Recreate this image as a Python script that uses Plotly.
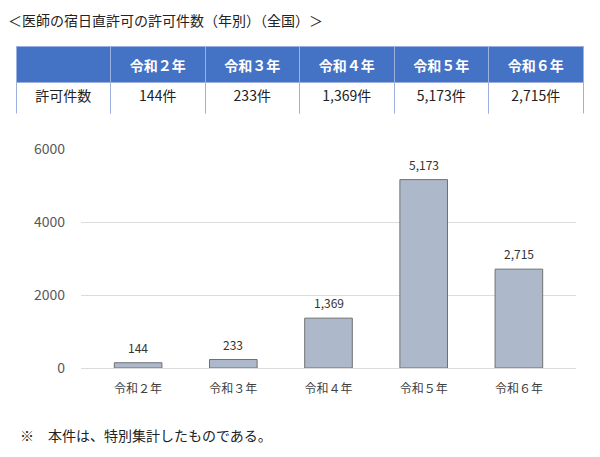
import plotly.graph_objects as go

# ---- data ----
categories = ["令和２年", "令和３年", "令和４年", "令和５年", "令和６年"]
counts = [144, 233, 1369, 5173, 2715]
row_label = "許可件数"
title_text = "＜医師の宿日直許可の許可件数（年別）（全国）＞"
note_text = "※　本件は、特別集計したものである。"
y_ticks = [0, 2000, 4000, 6000]

W, H = 600, 457
FONT = "Noto Sans CJK JP"

def fx(px):
    return px / W

def fy(py):
    return 1 - py / H

fig = go.Figure()

# ---- table ----
header_vals = [""] + categories
cell_vals = [[row_label]] + [[f"{v:,}件"] for v in counts]
fig.add_trace(go.Table(
    domain=dict(x=[fx(16), fx(583)], y=[fy(114), fy(46.5)]),
    columnwidth=[1] * len(header_vals),
    header=dict(
        values=[f"<b>{h}</b>" if h else "" for h in header_vals],
        fill_color="#4472c4",
        line=dict(color="#9db0e0", width=1),
        font=dict(family=FONT, size=14, color="white"),
        align="center",
        height=33,
    ),
    cells=dict(
        values=cell_vals,
        fill_color="white",
        line=dict(color="#9db0e0", width=1),
        font=dict(family=FONT, size=14, color="#222222"),
        align="center",
        height=33,
    ),
))

# ---- bar chart ----
fig.add_trace(go.Bar(
    x=list(range(len(categories))),
    y=counts,
    width=0.5,
    marker=dict(color="#adb9ca", line=dict(color="#707070", width=1)),
    hoverinfo="skip",
))

for i, v in enumerate(counts):
    fig.add_annotation(
        x=i, y=v, xref="x", yref="y",
        text=f"{v:,}", showarrow=False,
        yanchor="bottom", yshift=5,
        font=dict(family=FONT, size=12, color="#333333"),
    )

fig.add_annotation(
    x=fx(6), y=fy(20), xref="paper", yref="paper",
    xanchor="left", yanchor="middle", showarrow=False,
    text=title_text, font=dict(family=FONT, size=14, color="#222222"),
)
fig.add_annotation(
    x=fx(18), y=fy(435), xref="paper", yref="paper",
    xanchor="left", yanchor="middle", showarrow=False,
    text=note_text, font=dict(family=FONT, size=14, color="#222222"),
)

fig.update_layout(
    template="none",
    width=W, height=H,
    margin=dict(l=0, r=0, t=0, b=0, pad=0, autoexpand=False),
    paper_bgcolor="white", plot_bgcolor="white",
    showlegend=False,
    xaxis=dict(
        domain=[fx(81), fx(576)],
        range=[-0.6, len(categories) - 0.4],
        tickmode="array",
        tickvals=list(range(len(categories))),
        ticktext=categories,
        showgrid=False, zeroline=False, showline=False,
        ticks="", ticklabelstandoff=12, automargin=False,
        tickfont=dict(family=FONT, size=12, color="#404040"),
        fixedrange=True,
    ),
    yaxis=dict(
        domain=[fy(368), fy(149.5)],
        range=[0, 6000],
        tickmode="array",
        tickvals=y_ticks,
        ticktext=[str(t) for t in y_ticks],
        showgrid=True, gridcolor="#dcdcdc", gridwidth=1,
        zeroline=True, zerolinecolor="#dcdcdc", zerolinewidth=1,
        showline=False, ticks="", ticklabelstandoff=15, automargin=False,
        tickfont=dict(family=FONT, size=14, color="#595959"),
        fixedrange=True,
    ),
)

fig.write_html("out.html")
